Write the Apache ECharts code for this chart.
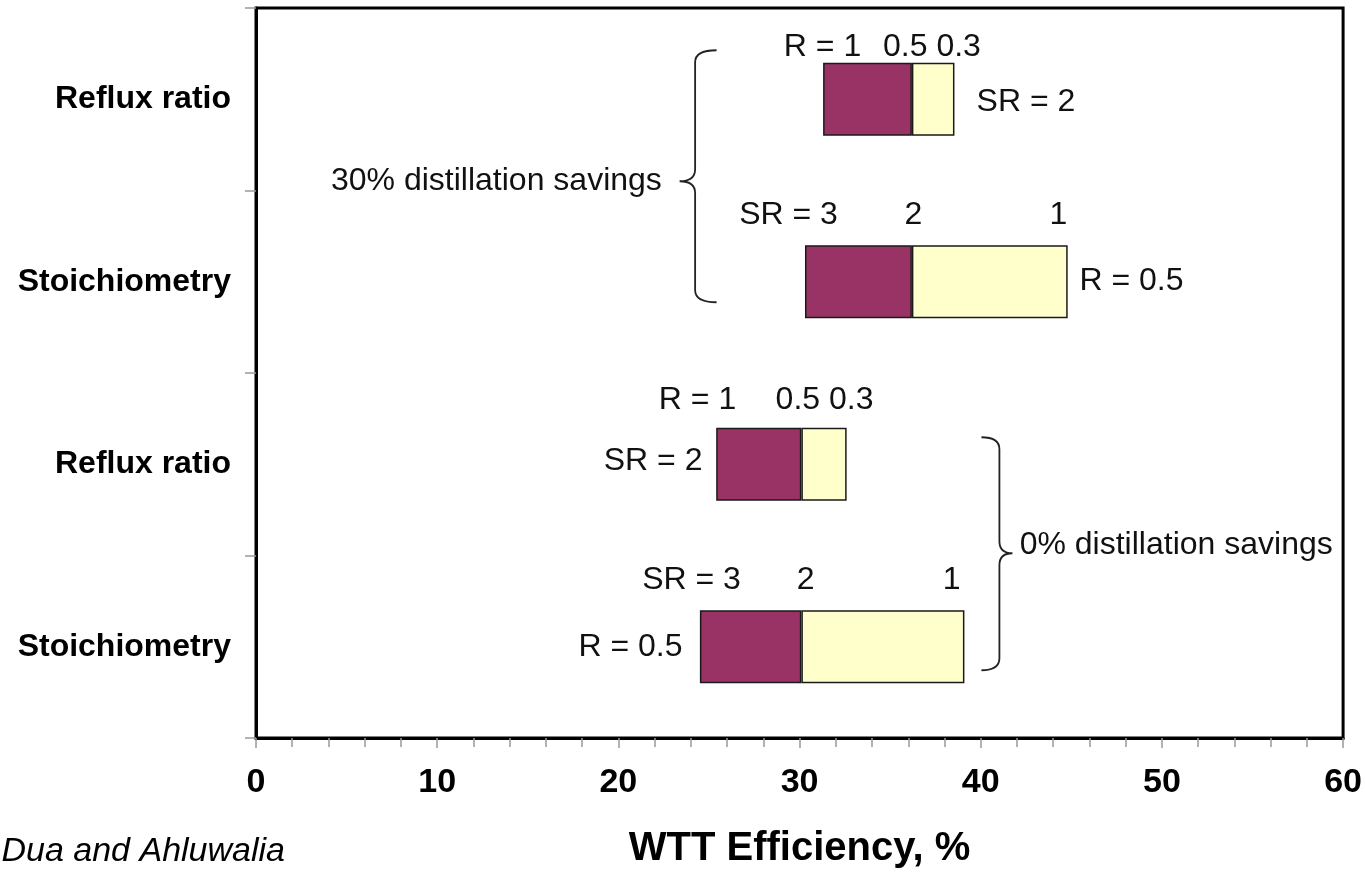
<!DOCTYPE html>
<html>
<head>
<meta charset="utf-8">
<script src="https://cdn.jsdelivr.net/npm/echarts@6/dist/echarts.min.js"></script>
<style>
html,body{margin:0;padding:0;background:#fff;}
#chart{width:1365px;height:876px;}
</style>
</head>
<body>
<div id="chart"></div>
<script>
// ---- data ----
const categoryKeys = ['r30', 's30', 'r0', 's0'];
const categoryLabels = ['Reflux ratio', 'Stoichiometry', 'Reflux ratio', 'Stoichiometry'];
const barStart = [31.3, 30.3, 25.4, 24.5];   // left edge of bar
const barMid   = [36.2, 36.2, 30.1, 30.1];   // purple / yellow boundary
const barEnd   = [38.55, 44.8, 32.6, 39.1];  // right edge of bar
const xTicks = [0, 10, 20, 30, 40, 50, 60];

// annotation texts anchored at data x and category
const annoTexts = ['R = 1', '0.5 0.3', 'SR = 2', 'SR = 3', '2', '1', 'R = 0.5',
                   'R = 1', '0.5 0.3', 'SR = 2', 'SR = 3', '2', '1', 'R = 0.5',
                   '30% distillation savings', '0% distillation savings'];
const annoX   = [31.27, 37.31, 39.77, 29.39, 36.29, 44.29, 45.45,
                 24.37, 31.38, 24.64, 24.04, 30.33, 38.39, 23.54,
                 22.4, 42.15];
const annoCat = [0, 0, 0, 1, 1, 1, 1, 2, 2, 2, 3, 3, 3, 3, 0, 2];
// layout of annotations (pixel offsets / alignment)
const annoDy    = [-52, -52, 3, -67, -67, -67, -1, -64, -64, -3, -67, -67, -67, 0, 82, 81];
const annoAlign = ['center', 'center', 'left', 'center', 'center', 'center', 'left',
                   'center', 'center', 'right', 'center', 'center', 'center', 'right',
                   'right', 'left'];

// braces: tip x, end x (data), anchor category
const braceTipX = [23.38, 41.75];
const braceEndX = [25.42, 40.04];
const braceCat  = [0, 2];
const braceDy   = [[-49, 82, 203], [-27, 89, 206]]; // top, tip, bottom pixel offsets

const purpleVals = barStart.map((s, i) => +(barMid[i] - s).toFixed(3));
const yellowVals = barMid.map((m, i) => +(barEnd[i] - m).toFixed(3));

const FONT = "'Liberation Sans', Arial, Helvetica, sans-serif";
const chart = echarts.init(document.getElementById('chart'));

function renderText(params, api) {
  const i = params.dataIndex;
  const p = api.coord([api.value(0), api.value(1)]);
  return {
    type: 'text',
    x: p[0], y: p[1] + annoDy[i],
    style: {
      text: annoTexts[i], fontSize: 32, fontFamily: FONT, fill: '#111',
      align: annoAlign[i], verticalAlign: 'middle'
    }
  };
}
function renderBrace(params, api) {
  const i = params.dataIndex;
  const tip = api.coord([api.value(0), api.value(1)]);
  const end = api.coord([braceEndX[i], api.value(1)]);
  const xt = tip[0], xe = end[0];
  const xm = xt + (xe - xt) * 0.42;
  const yc = tip[1];
  const yt = yc + braceDy[i][0], ym = yc + braceDy[i][1], yb = yc + braceDy[i][2];
  const r = 12;
  const d = 'M' + xe + ' ' + yt +
    ' Q' + xm + ' ' + yt + ' ' + xm + ' ' + (yt + r) +
    ' L' + xm + ' ' + (ym - r) +
    ' Q' + xm + ' ' + ym + ' ' + xt + ' ' + ym +
    ' Q' + xm + ' ' + ym + ' ' + xm + ' ' + (ym + r) +
    ' L' + xm + ' ' + (yb - r) +
    ' Q' + xm + ' ' + yb + ' ' + xe + ' ' + yb;
  return {
    type: 'path',
    shape: { pathData: d },
    style: { fill: 'none', stroke: '#222', lineWidth: 1.8 }
  };
}

const option = {
  animation: false,
  backgroundColor: '#fff',
  textStyle: { fontFamily: FONT },
  grid: {
    left: 256, right: 21, top: 8, bottom: 138,
    show: true, borderColor: '#000', borderWidth: 3, backgroundColor: 'transparent'
  },
  xAxis: {
    type: 'value', min: 0, max: 60, interval: 10,
    name: 'WTT Efficiency, %', nameLocation: 'middle', nameGap: 91,
    nameTextStyle: { fontSize: 40, fontWeight: 'bold', color: '#000', fontFamily: FONT },
    axisLine: { show: true, lineStyle: { color: '#000', width: 3 } },
    axisTick: { show: true, length: 10, lineStyle: { color: '#999', width: 1.5 } },
    minorTick: { show: true, splitNumber: 5, length: 9, lineStyle: { color: '#999', width: 1.5 } },
    splitLine: { show: false },
    axisLabel: {
      margin: 28, fontSize: 34, fontWeight: 'bold', color: '#000', fontFamily: FONT,
      formatter: v => xTicks.includes(v) ? String(v) : ''
    }
  },
  yAxis: {
    type: 'category', inverse: true, data: categoryKeys,
    axisLine: { show: true, lineStyle: { color: '#000', width: 3 } },
    axisTick: { show: true, length: 11, lineStyle: { color: '#999', width: 1.5 } },
    splitLine: { show: false },
    axisLabel: {
      margin: 25, fontSize: 32, fontWeight: 'bold', color: '#000', fontFamily: FONT,
      formatter: (v, idx) => categoryLabels[idx]
    }
  },
  series: [
    {
      name: 'base', type: 'bar', stack: 'w', barWidth: '40%', silent: true,
      itemStyle: { color: 'transparent', borderWidth: 0 },
      data: barStart
    },
    {
      name: 'low', type: 'bar', stack: 'w', barWidth: '40%',
      itemStyle: { color: '#993366', borderColor: '#1a1a1a', borderWidth: 1.5 },
      data: purpleVals
    },
    {
      name: 'high', type: 'bar', stack: 'w', barWidth: '40%',
      itemStyle: { color: '#FFFFCC', borderColor: '#1a1a1a', borderWidth: 1.5 },
      data: yellowVals
    },
    {
      name: 'labels', type: 'custom', clip: false, silent: true,
      encode: { x: 0, y: 1 },
      renderItem: renderText,
      data: annoX.map((x, i) => [x, annoCat[i]])
    },
    {
      name: 'braces', type: 'custom', clip: false, silent: true,
      encode: { x: 0, y: 1 },
      renderItem: renderBrace,
      data: braceTipX.map((x, i) => [x, braceCat[i]])
    }
  ],
  graphic: [
    {
      type: 'text', x: 285, y: 852,
      style: {
        text: 'Dua and Ahluwalia', fontSize: 34, fontStyle: 'italic', fontFamily: FONT,
        fill: '#000', align: 'right', verticalAlign: 'middle'
      }
    }
  ]
};
chart.setOption(option);
</script>
</body>
</html>
